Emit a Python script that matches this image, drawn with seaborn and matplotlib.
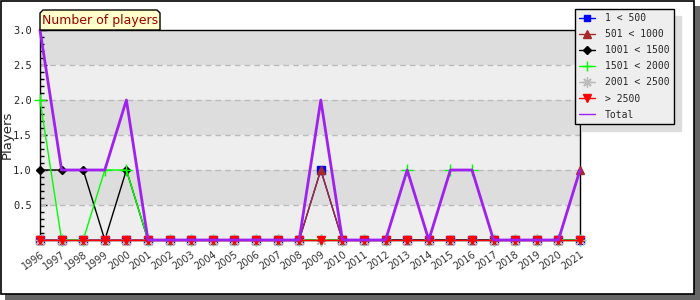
import numpy as np
import pandas as pd
import matplotlib
matplotlib.use("Agg")
import matplotlib.pyplot as plt
from matplotlib.patches import Rectangle, Polygon
from matplotlib.ticker import MultipleLocator
import seaborn as sns

years = list(range(1996, 2022))
year_labels = [str(y) for y in years]

s_1_500 = [0,0,0,0,0,0,0,0,0,0,0,0,0,1,0,0,0,0,0,0,0,0,0,0,0,0]
s_501_1000 = [0,0,0,0,0,0,0,0,0,0,0,0,0,1,0,0,0,0,0,0,0,0,0,0,0,1]
s_1001_1500 = [1,1,1,0,1,0,0,0,0,0,0,0,0,0,0,0,0,0,0,0,0,0,0,0,0,0]
s_1501_2000 = [2,0,0,1,1,0,0,0,0,0,0,0,0,0,0,0,0,1,0,1,1,0,0,0,0,0]
s_2001_2500 = [0]*26
s_2500 = [0]*26
total = [3,1,1,1,2,0,0,0,0,0,0,0,0,2,0,0,0,1,0,1,1,0,0,0,0,1]

labels = ["1 < 500", "501 < 1000", "1001 < 1500", "1501 < 2000",
          "2001 < 2500", "> 2500", "Total"]
series = [s_1_500, s_501_1000, s_1001_1500, s_1501_2000, s_2001_2500, s_2500, total]
colors = ["#0000FF", "#A52A2A", "#000000", "#00FF00", "#BBBBBB", "#FF0000", "#A020F0"]
markers = ["s", "^", "D", "+", (8, 2, 0), "v", None]
msizes = [5.5, 6, 4, 8, 8, 6, 0]
lws = [1, 1, 1, 1, 1, 1, 2]

sns.set_style("white")
plt.rcParams["font.family"] = ["DejaVu Sans"]

W, H = 700, 300
fig = plt.figure(figsize=(7, 3), dpi=100)
fig.patch.set_facecolor("white")

# frame with shadow
fig.patches.append(Rectangle((5 / W, 0), 695 / W, 294 / H, transform=fig.transFigure,
                             facecolor="#666666", edgecolor="none", zorder=-10))
fig.patches.append(Rectangle((0.5 / W, 6 / H), 693 / W, 293.5 / H, transform=fig.transFigure,
                             facecolor="white", edgecolor="black", lw=1.2, zorder=-9))

ax = fig.add_axes([40 / W, 1 - 240 / H, 540 / W, 210 / H])
ax.set_facecolor("none")

# bands
band_cols = ["#EEEEEE", "#DDDDDD"]
for i in range(6):
    ax.axhspan(i * 0.5, (i + 1) * 0.5, color=band_cols[i % 2], zorder=0, lw=0)

for i in range(1, 6):
    ax.axhline(i * 0.5, color="#BBBBBB", lw=1, ls=(0, (4, 3)), zorder=1)

for vals, lab, c, m, ms, lw in zip(series, labels, colors, markers, msizes, lws):
    df = pd.DataFrame({"year": years, "value": vals})
    kw = dict(marker=m, markersize=ms, markeredgecolor=c, markerfacecolor=c,
              markeredgewidth=1) if m is not None else {}
    sns.lineplot(data=df, x="year", y="value", ax=ax, color=c, lw=lw, label=lab,
                 clip_on=False, zorder=3, **kw)

ax.set_xlim(1996, 2021)
ax.set_ylim(0, 3.0)
ax.set_xticks(years)
ax.set_xticklabels(year_labels, rotation=35, ha="right", rotation_mode="anchor",
                   fontsize=7, color="#333333")
ax.set_yticks([0.5, 1.0, 1.5, 2.0, 2.5, 3.0])
ax.set_yticklabels(["0.5", "1.0", "1.5", "2.0", "2.5", "3.0"],
                   family="DejaVu Sans Mono", fontsize=7.5)
ax.yaxis.set_minor_locator(MultipleLocator(0.1))
ax.tick_params(axis="y", which="major", direction="in", length=5, width=1, color="black", pad=6, left=True)
ax.tick_params(axis="y", which="minor", direction="in", length=3, width=1, color="black", left=True)
ax.tick_params(axis="x", which="major", direction="inout", length=7, width=1, color="black", pad=3, bottom=True)
ax.set_xlabel("")
ax.set_ylabel("Players", fontsize=9.5, va="center")
ax.yaxis.set_label_coords((7 - 40) / 540, 0.5)
for sp in ax.spines.values():
    sp.set_visible(True)
    sp.set_color("black")
    sp.set_linewidth(1)

# title tab
tab = [(40, 30), (40, 13), (43, 10), (157, 10), (160, 13), (160, 30)]
fig.patches.append(Polygon([(x / W, 1 - y / H) for x, y in tab], closed=True,
                           transform=fig.transFigure, facecolor="#FFFFCC",
                           edgecolor="black", lw=1, zorder=5))
fig.text(100 / W, 1 - 20.5 / H, "Number of players", ha="center", va="center",
         color="#990000", fontsize=9, zorder=6)

leg = ax.legend(loc="upper left", bbox_to_anchor=(575 / W, 1 - 9 / H),
                bbox_transform=fig.transFigure, borderaxespad=0,
                prop={"family": "DejaVu Sans Mono", "size": 7},
                frameon=True, fancybox=False, edgecolor="black",
                facecolor="#EEEEEE", framealpha=1, labelspacing=0.62,
                handlelength=1.6, handletextpad=1.0, borderpad=0.45,
                markerscale=0.9,
                shadow={"ox": 5, "oy": -5, "facecolor": "#DDDDDD",
                        "edgecolor": "#DDDDDD", "alpha": 1})
leg.get_frame().set_linewidth(1)
for line in leg.get_lines():
    line.set_linewidth(1)

fig.savefig("out.png", dpi=100)
